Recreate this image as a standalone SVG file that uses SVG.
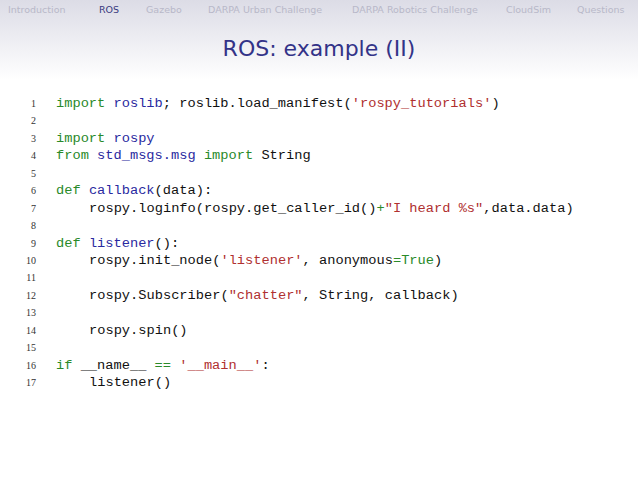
<svg xmlns="http://www.w3.org/2000/svg" width="638" height="479" viewBox="0 0 638 479">
<defs>
<linearGradient id="hd" x1="0" y1="0" x2="0" y2="1">
<stop offset="0" stop-color="#dcdce6"/><stop offset="1" stop-color="#ffffff"/>
</linearGradient>
<style>
.nav{font-family:"DejaVu Sans",sans-serif;font-size:9.5px;fill:#b8b8c8}
.navA{fill:#3a3a80}
.ttl{font-family:"DejaVu Sans",sans-serif;font-size:22px;fill:#333388}
.c{font-family:"Liberation Mono",monospace;font-size:13.7px;fill:#111;white-space:pre}
.n{font-family:"Liberation Serif",serif;font-size:10px;fill:#333;text-anchor:end}
.k{fill:#2a8a2a}.b{fill:#2a2aa0}.s{fill:#b03030}
</style>
</defs>
<rect width="638" height="479" fill="#fff"/>
<rect width="638" height="80" fill="url(#hd)"/>
<g id="nav">
<text class="nav" x="8" y="13">Introduction</text>
<text class="nav navA" x="99" y="13">ROS</text>
<text class="nav" x="146" y="13">Gazebo</text>
<text class="nav" x="208" y="13">DARPA Urban Challenge</text>
<text class="nav" x="352" y="13">DARPA Robotics Challenge</text>
<text class="nav" x="506" y="13">CloudSim</text>
<text class="nav" x="577" y="13">Questions</text>
</g>
<text id="title" class="ttl" x="319" y="56" text-anchor="middle">ROS: example (II)</text>
<g id="code" xml:space="preserve">
<text class="n" x="36" y="107">1</text><text class="c" x="56" y="107"><tspan class="k">import</tspan> <tspan class="b">roslib</tspan>; roslib.load_manifest(<tspan class="s">'rospy_tutorials'</tspan>)</text>
<text class="n" x="36" y="124.4">2</text>
<text class="n" x="36" y="141.9">3</text><text class="c" x="56" y="141.9"><tspan class="k">import</tspan> <tspan class="b">rospy</tspan></text>
<text class="n" x="36" y="159.3">4</text><text class="c" x="56" y="159.3"><tspan class="k">from</tspan> <tspan class="b">std_msgs.msg</tspan> <tspan class="k">import</tspan> String</text>
<text class="n" x="36" y="176.8">5</text>
<text class="n" x="36" y="194.2">6</text><text class="c" x="56" y="194.2"><tspan class="k">def</tspan> <tspan class="b">callback</tspan>(data):</text>
<text class="n" x="36" y="211.6">7</text><text class="c" x="89" y="211.6">rospy.loginfo(rospy.get_caller_id()<tspan class="k">+</tspan><tspan class="s">"I heard %s"</tspan>,data.data)</text>
<text class="n" x="36" y="229.1">8</text>
<text class="n" x="36" y="246.5">9</text><text class="c" x="56" y="246.5"><tspan class="k">def</tspan> <tspan class="b">listener</tspan>():</text>
<text class="n" x="36" y="264">10</text><text class="c" x="89" y="264">rospy.init_node(<tspan class="s">'listener'</tspan>, anonymous<tspan class="k">=True</tspan>)</text>
<text class="n" x="36" y="281.4">11</text>
<text class="n" x="36" y="298.8">12</text><text class="c" x="89" y="298.8">rospy.Subscriber(<tspan class="s">"chatter"</tspan>, String, callback)</text>
<text class="n" x="36" y="316.3">13</text>
<text class="n" x="36" y="333.7">14</text><text class="c" x="89" y="333.7">rospy.spin()</text>
<text class="n" x="36" y="351.2">15</text>
<text class="n" x="36" y="368.6">16</text><text class="c" x="56" y="368.6"><tspan class="k">if</tspan> __name__ <tspan class="k">==</tspan> <tspan class="s">'__main__'</tspan>:</text>
<text class="n" x="36" y="386">17</text><text class="c" x="89" y="386">listener()</text>
</g>
</svg>
